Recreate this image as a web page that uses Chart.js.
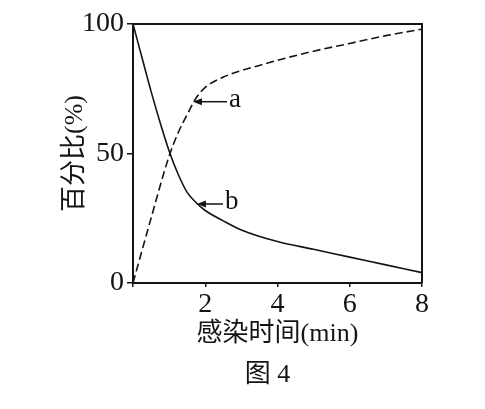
<!DOCTYPE html>
<html>
<head>
<meta charset="utf-8">
<script src="https://cdn.jsdelivr.net/npm/chart.js@4/dist/chart.umd.min.js"></script>
<style>
  html, body { margin: 0; padding: 0; background: #fff; }
  #wrap { width: 485px; height: 409px; }
</style>
</head>
<body>
<div id="wrap"><canvas id="fig4"></canvas></div>
<script>
"use strict";

// values
const timeA = [0, 0.5, 1, 1.25, 1.5, 1.75, 2, 2.5, 3, 3.5, 4, 5, 6, 7, 8];
const curveA = [0, 25, 49, 58, 65, 71.5, 75.5, 79.5, 82, 84, 86, 89.5, 92.5, 95.5, 98];
const timeB = [0, 0.25, 0.5, 0.75, 1, 1.25, 1.5, 1.75, 2, 2.5, 3, 4, 5, 6, 7, 8];
const curveB = [100, 87, 74, 62, 51, 42, 35, 31, 28, 24, 20.5, 16, 13, 10, 7, 4];
const xTicks = [0, 2, 4, 6, 8];
const yTicks = [0, 50, 100];

// arrow labels pointing at the curves
const markNames = ['a', 'b'];
const markX = [1.66, 1.77];
const markY = [70, 30.5];

const caption = '图 4';

const ink = '#141414';
const serif = '"Liberation Serif", "Noto Sans CJK SC", serif';

const toPoints = (xs, ys) => xs.map((x, i) => ({ x: x, y: ys[i] }));

// top and right edges of the frame
const framePlugin = {
    id: 'frame',
    beforeDatasetsDraw(chart) {
        const { ctx, chartArea: a } = chart;
        ctx.save();
        ctx.strokeStyle = ink;
        ctx.lineWidth = 2;
        ctx.beginPath();
        ctx.moveTo(a.left, a.top);
        ctx.lineTo(a.right, a.top);
        ctx.lineTo(a.right, a.bottom);
        ctx.stroke();
        ctx.restore();
    }
};

const arrowPlugin = {
    id: 'arrows',
    afterDatasetsDraw(chart) {
        const { ctx } = chart;
        const xs = chart.scales.x, ys = chart.scales.y;
        ctx.save();
        markNames.forEach((name, i) => {
            const tx = xs.getPixelForValue(markX[i]);
            const ty = ys.getPixelForValue(markY[i]);
            const len = i === 0 ? 34 : 26;
            ctx.strokeStyle = ink;
            ctx.fillStyle = ink;
            ctx.lineWidth = 1.5;
            ctx.beginPath();
            ctx.moveTo(tx + 6, ty);
            ctx.lineTo(tx + len, ty);
            ctx.stroke();
            ctx.beginPath();
            ctx.moveTo(tx, ty);
            ctx.lineTo(tx + 9, ty - 3.5);
            ctx.lineTo(tx + 9, ty + 3.5);
            ctx.closePath();
            ctx.fill();
            ctx.font = '27px ' + serif;
            ctx.textBaseline = 'middle';
            ctx.textAlign = 'left';
            ctx.fillText(name, tx + len + 2, ty - 2);
        });
        ctx.restore();
    }
};

// figure caption under the axis title
const captionPlugin = {
    id: 'caption',
    afterDraw(chart) {
        const { ctx, chartArea: a } = chart;
        ctx.save();
        ctx.fillStyle = ink;
        ctx.font = '26px ' + serif;
        ctx.textAlign = 'center';
        ctx.textBaseline = 'middle';
        ctx.fillText(caption, (a.left + a.right) / 2 - 10, 375);
        ctx.restore();
    }
};

const chart = new Chart(document.getElementById('fig4'), {
    type: 'scatter',
    data: {
        datasets: [{
            label: 'a',
            data: toPoints(timeA, curveA),
            showLine: true,
            borderColor: ink,
            borderWidth: 1.6,
            borderDash: [8, 4],
            pointRadius: 0,
            cubicInterpolationMode: 'monotone'
        }, {
            label: 'b',
            data: toPoints(timeB, curveB),
            showLine: true,
            borderColor: ink,
            borderWidth: 1.6,
            pointRadius: 0,
            cubicInterpolationMode: 'monotone'
        }]
    },
    options: {
        responsive: true,
        maintainAspectRatio: false,
        animation: false,
        layout: { padding: { left: 45, top: 24, right: 63, bottom: 50 } },
        plugins: {
            legend: { display: false },
            tooltip: { enabled: false },
            title: { display: false }
        },
        scales: {
            x: {
                type: 'linear',
                min: 0,
                max: 8,
                afterFit(scale) { scale.height = 76; },
                afterBuildTicks(scale) { scale.ticks = xTicks.map(v => ({ value: v })); },
                ticks: {
                    color: ink,
                    padding: 1,
                    font: { family: serif, size: 28 },
                    callback: v => (v === 0 ? '' : v)
                },
                grid: { display: true, drawOnChartArea: false, drawTicks: true, tickLength: 4, color: ink, lineWidth: 1.5 },
                border: { display: true, color: ink, width: 2 },
                title: {
                    display: true,
                    text: '感染时间(min)',
                    color: ink,
                    font: { family: serif, size: 26, lineHeight: 1.2 },
                    padding: { top: 0, bottom: 9 }
                }
            },
            y: {
                type: 'linear',
                min: 0,
                max: 100,
                afterFit(scale) { scale.width = 88; },
                afterBuildTicks(scale) { scale.ticks = yTicks.map(v => ({ value: v })); },
                ticks: {
                    color: ink,
                    padding: 3,
                    font: { family: serif, size: 28 }
                },
                grid: { display: true, drawOnChartArea: false, drawTicks: true, tickLength: 6, color: ink, lineWidth: 1.5 },
                border: { display: true, color: ink, width: 2 },
                title: {
                    display: true,
                    text: '百分比(%)',
                    color: ink,
                    font: { family: serif, size: 26, lineHeight: 1.2 },
                    padding: { top: 15, bottom: 0 }
                }
            }
        }
    },
    plugins: [framePlugin, arrowPlugin, captionPlugin]
});
</script>
</body>
</html>
